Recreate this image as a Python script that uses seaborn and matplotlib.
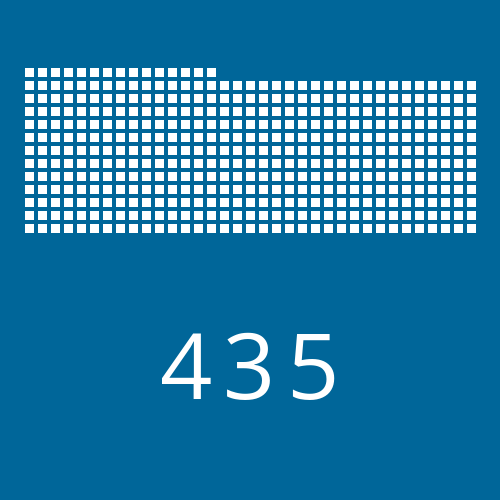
import numpy as np
import matplotlib
matplotlib.use("Agg")
import matplotlib.pyplot as plt
import seaborn as sns
from matplotlib.colors import ListedColormap

# waffle data
total = 435
n_cols = 35
bg_color = "#006699"
square_color = "#ffffff"

n_rows = int(np.ceil(total / n_cols))
remainder = total - (n_rows - 1) * n_cols

# grid: full rows below, partial row on top filled from the left
grid = np.ones((n_rows, n_cols))
grid[0, remainder:] = 0

fig = plt.figure(figsize=(5, 5), dpi=100, facecolor=bg_color)
ax = fig.add_axes([22.7 / 500, 1 - 235.3 / 500, 455 / 500, 169 / 500])
ax.set_facecolor(bg_color)

sns.heatmap(grid, ax=ax, cmap=ListedColormap([bg_color, square_color]),
            vmin=0, vmax=1, cbar=False, linewidths=2.88, linecolor=bg_color,
            xticklabels=False, yticklabels=False, square=False)
ax.set_axis_off()

# big number, spaced out digit by digit
label = str(total)
centers = [186, 249, 312]
for ch, cx in zip(label, centers):
    fig.text(cx / 500, 1 - 399 / 500, ch, color="white", fontsize=66,
             family=["Open Sans", "DejaVu Sans"], ha="center", va="baseline")

fig.savefig("out.png", dpi=100, facecolor=bg_color)
